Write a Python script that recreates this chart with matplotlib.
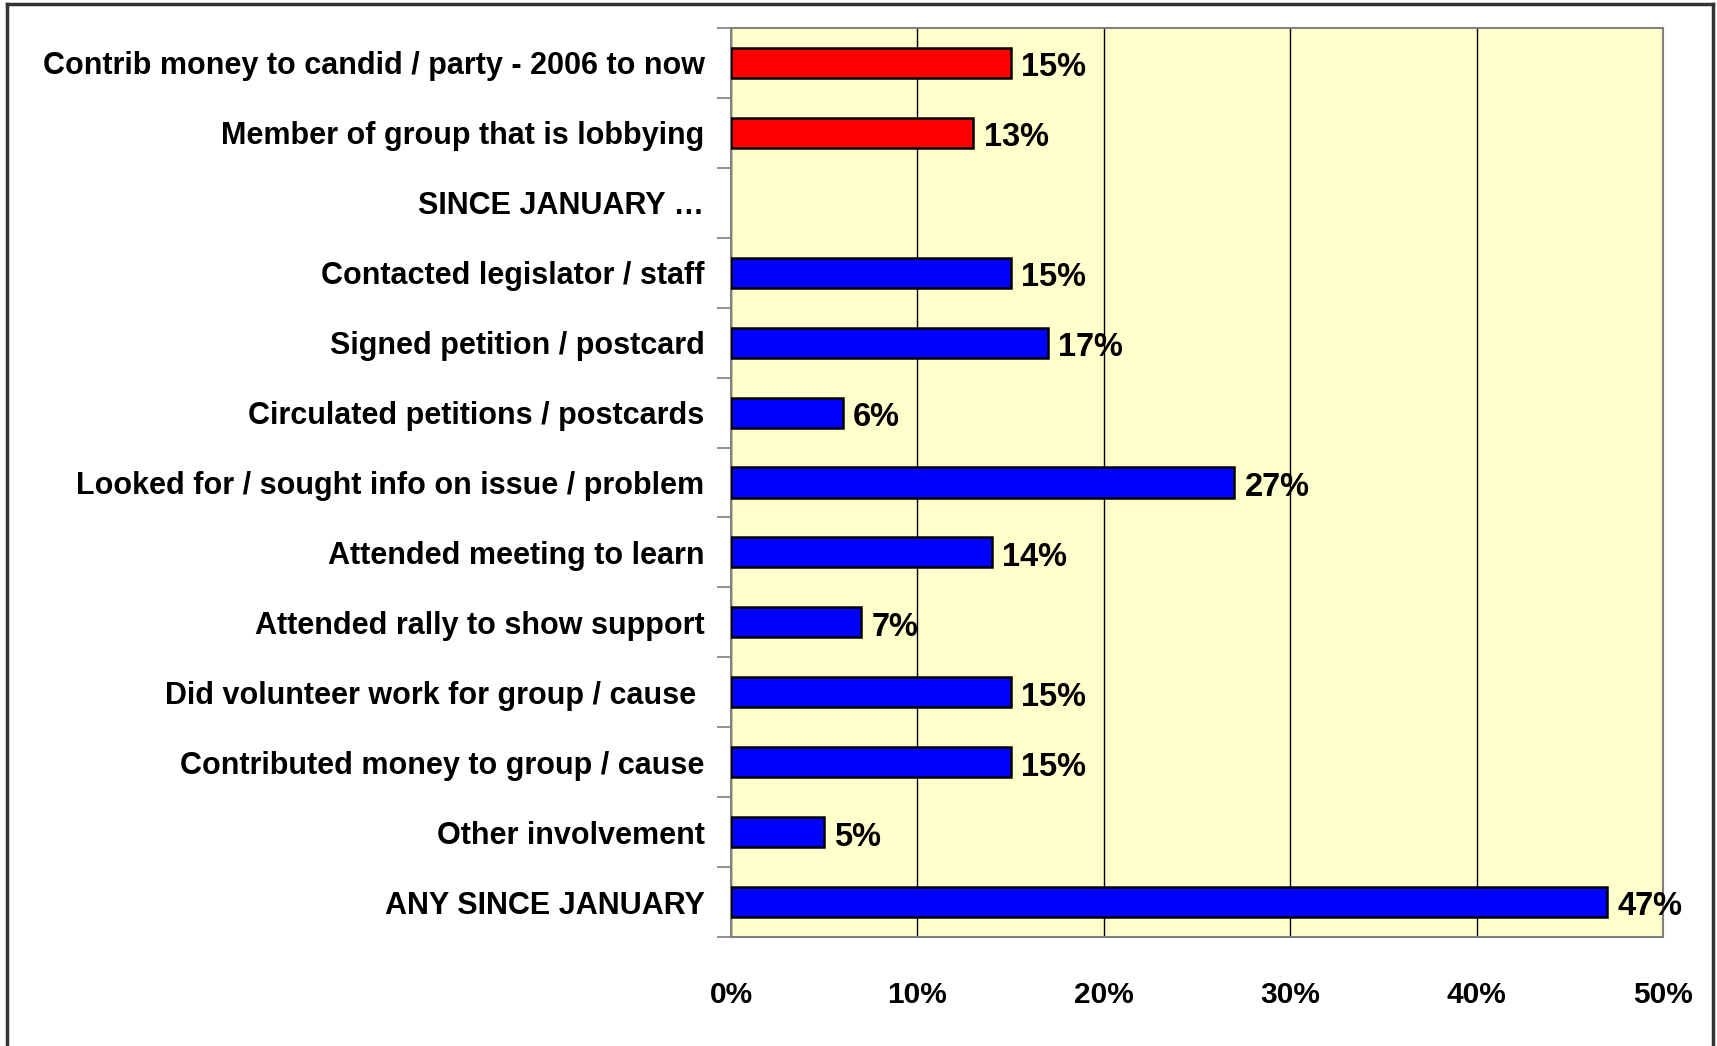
import matplotlib
matplotlib.use("Agg")
import matplotlib.pyplot as plt
from matplotlib.lines import Line2D
from matplotlib import font_manager

categories = [
    "Contrib money to candid / party - 2006 to now",
    "Member of group that is lobbying",
    "SINCE JANUARY \u2026",
    "Contacted legislator / staff",
    "Signed petition / postcard",
    "Circulated petitions / postcards",
    "Looked for / sought info on issue / problem",
    "Attended meeting to learn",
    "Attended rally to show support",
    "Did volunteer work for group / cause ",
    "Contributed money to group / cause",
    "Other involvement",
    "ANY SINCE JANUARY",
]
values = [15, 13, None, 15, 17, 6, 27, 14, 7, 15, 15, 5, 47]
groups = ["red", "red", None, "blue", "blue", "blue", "blue", "blue", "blue", "blue", "blue", "blue", "blue"]
xticks = [0, 10, 20, 30, 40, 50]
xticklabels = ["0%", "10%", "20%", "30%", "40%", "50%"]

avail = {f.name for f in font_manager.fontManager.ttflist}
fam = ["Liberation Sans", "DejaVu Sans"]
fam = [f for f in fam if f in avail] or ["DejaVu Sans"]
plt.rcParams["font.family"] = fam

color_map = {"red": "#FF0000", "blue": "#0000FF"}

fig = plt.figure(figsize=(17.17, 10.46), dpi=100)
ax = fig.add_axes([731/1717, 1 - 937/1046, (1663-731)/1717, (937-28)/1046])
ax.set_facecolor("#FFFFCC")

n = len(categories)
ys = list(range(n))
for y, v, g in zip(ys, values, groups):
    if v is None:
        continue
    ax.barh(y, v, height=0.43, color=color_map[g], edgecolor="black", linewidth=1.8, zorder=3)
    ax.text(v + 0.55, y + 0.07, f"{v}%", va="center", ha="left", fontsize=23.5, fontweight="bold", zorder=4)

ax.set_xlim(0, 50)
ax.set_ylim(n - 0.5, -0.5)
ax.set_xticks(xticks)
ax.set_xticklabels(xticklabels, fontsize=21.5, fontweight="bold")
ax.set_yticks(ys)
ax.set_yticklabels(categories, fontsize=22, fontweight="bold")
ax.tick_params(axis="y", length=0, pad=19)
ax.tick_params(axis="x", length=0, pad=32)
# minor ticks at category boundaries
ax.set_yticks([i - 0.5 for i in range(n + 1)], minor=True)
ax.tick_params(axis="y", which="minor", length=10, color="#808080", width=1.2, direction="out")
ax.set_xticks(xticks, minor=True)
ax.tick_params(axis="x", which="minor", length=10, color="#808080", width=1.2, direction="out")
ax.xaxis.grid(True, color="black", linewidth=1.0, zorder=0)
ax.set_axisbelow(True)
for s in ["top", "right", "left", "bottom"]:
    ax.spines[s].set_color("#808080")
    ax.spines[s].set_linewidth(1.5)

# outer frame
fig.add_artist(Line2D([7/1717, 7/1717], [0, 1 - 4/1046], transform=fig.transFigure, color="#333333", linewidth=2.5))
fig.add_artist(Line2D([7/1717, 1713/1717], [1 - 4/1046, 1 - 4/1046], transform=fig.transFigure, color="#333333", linewidth=2.5))
fig.add_artist(Line2D([1713/1717, 1713/1717], [0, 1 - 4/1046], transform=fig.transFigure, color="#333333", linewidth=2.5))

fig.savefig("out.png", dpi=100, facecolor="white")
